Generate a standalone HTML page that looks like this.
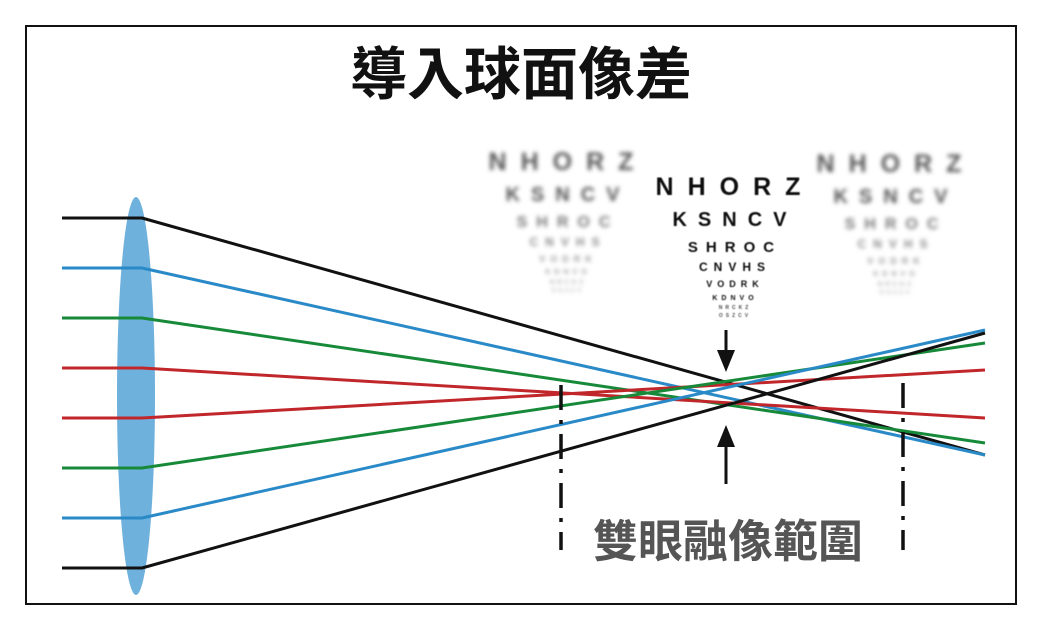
<!DOCTYPE html>
<html><head><meta charset="utf-8"><style>
html,body{margin:0;padding:0;background:#fff;}
svg{display:block;}
</style></head><body>
<svg width="1042" height="626" viewBox="0 0 1042 626" xmlns="http://www.w3.org/2000/svg">
<defs>
<filter id="b1" x="-10%" y="-10%" width="120%" height="120%"><feGaussianBlur stdDeviation="2.2"/></filter>
<filter id="b0" x="-10%" y="-10%" width="120%" height="120%"><feGaussianBlur stdDeviation="0.6"/></filter>
</defs>
<rect x="26" y="26" width="990" height="578" fill="#fff" stroke="#111" stroke-width="2"/>
<text x="521" y="94" text-anchor="middle" font-family="'Liberation Sans','Noto Sans CJK TC',sans-serif" font-size="57" font-weight="bold" fill="#111">導入球面像差</text>

<g font-family="'Liberation Sans',sans-serif" font-weight="bold" text-anchor="middle">
<g fill="#555" filter="url(#b1)">
<text x="568" y="170" font-size="25" letter-spacing="14">NHORZ</text>
<text x="568" y="201" font-size="20" letter-spacing="11">KSNCV</text>
<text x="568" y="227" font-size="16" letter-spacing="9" fill="#777">SHROC</text>
<text x="568" y="246" font-size="12" letter-spacing="7" fill="#888">CNVHS</text>
<text x="568" y="262" font-size="9" letter-spacing="5" fill="#999">VODRK</text>
<text x="568" y="274" font-size="7" letter-spacing="4" fill="#999">KDNVO</text>
<text x="568" y="284" font-size="6" letter-spacing="3" fill="#aaa">NRCKZ</text>
<text x="568" y="292" font-size="5" letter-spacing="3" fill="#aaa">OSZCV</text>
</g>
<g fill="#555" filter="url(#b1)">
<text x="896" y="172" font-size="25" letter-spacing="14">NHORZ</text>
<text x="896" y="203" font-size="20" letter-spacing="11">KSNCV</text>
<text x="896" y="229" font-size="16" letter-spacing="9" fill="#777">SHROC</text>
<text x="896" y="248" font-size="12" letter-spacing="7" fill="#888">CNVHS</text>
<text x="896" y="264" font-size="9" letter-spacing="5" fill="#999">VODRK</text>
<text x="896" y="276" font-size="7" letter-spacing="4" fill="#999">KDNVO</text>
<text x="896" y="286" font-size="6" letter-spacing="3" fill="#aaa">NRCKZ</text>
<text x="896" y="294" font-size="5" letter-spacing="3" fill="#aaa">OSZCV</text>
</g>
<g fill="#111" filter="url(#b0)">
<text x="735" y="195" font-size="25" letter-spacing="14">NHORZ</text>
<text x="735" y="226" font-size="20" letter-spacing="11">KSNCV</text>
<text x="735" y="252" font-size="15" letter-spacing="8">SHROC</text>
<text x="735" y="271" font-size="12" letter-spacing="6">CNVHS</text>
<text x="735" y="287" font-size="9" letter-spacing="5">VODRK</text>
<text x="735" y="300" font-size="7" letter-spacing="4">KDNVO</text>
<text x="735" y="309" font-size="5" letter-spacing="3" fill="#444">NRCKZ</text>
<text x="735" y="317" font-size="5" letter-spacing="3" fill="#555">OSZCV</text>
</g>
</g>

<ellipse cx="136" cy="396" rx="19" ry="199" fill="#6fb1dd"/>

<g fill="none" stroke-width="3" stroke-linejoin="round">
<polyline points="62,218 142,218 985,455" stroke="#111"/>
<polyline points="62,268 142,268 985,455" stroke="#2a8ac8"/>
<polyline points="62,318 142,318 985,443" stroke="#178a3a"/>
<polyline points="62,368 142,368 985,418" stroke="#c0262a"/>
<polyline points="62,418 142,418 985,370" stroke="#c0262a"/>
<polyline points="62,468 142,468 985,343" stroke="#178a3a"/>
<polyline points="62,518 142,518 985,330" stroke="#2a8ac8"/>
<polyline points="62,568 142,568 985,333" stroke="#111"/>
</g>

<g stroke="#111" stroke-width="3.5" stroke-dasharray="25 10 4 10">
<line x1="561" y1="385" x2="561" y2="550"/>
<line x1="903" y1="383" x2="903" y2="550"/>
</g>

<line x1="726" y1="330" x2="726" y2="355" stroke="#111" stroke-width="3"/>
<polygon points="717,350 735,350 726,372" fill="#111"/>
<line x1="726" y1="442" x2="726" y2="484" stroke="#111" stroke-width="3"/>
<polygon points="717,447 735,447 726,425" fill="#111"/>

<text x="728" y="557" text-anchor="middle" font-family="'Liberation Sans','Noto Sans CJK TC',sans-serif" font-size="45" font-weight="bold" fill="#555">雙眼融像範圍</text>
</svg>
</body></html>
